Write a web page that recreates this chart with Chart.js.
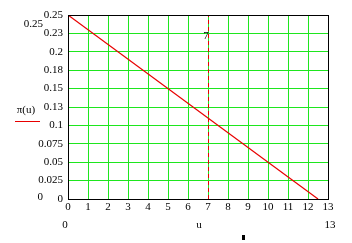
<!DOCTYPE html>
<html><head><meta charset="utf-8">
<script src="https://cdn.jsdelivr.net/npm/chart.js@4"></script>
<style>html,body{margin:0;padding:0;background:#fff;}#wrap{width:352px;height:243px;}</style>
</head><body><div id="wrap"><canvas id="c" width="352" height="243"></canvas></div>
<script>
const lineU = [0, 12.5];
const linePi = [0.25, 0];
const markerU = 7;
const yTickLabels = ['0', '0.025', '0.05', '0.075', '0.1', '0.13', '0.15', '0.18', '0.2', '0.23', '0.25'];
const xMin = 0, xMax = 13, yMin = 0, yMax = 0.25;

const FONT = '"Liberation Serif", "Times New Roman", serif';
const GREEN = '#1ee61e';

const extras = {
  id: 'extras',
  beforeDatasetDraw(chart, args) {
    if (args.index === 1) { chart.ctx.save(); chart.ctx.translate(0.5, 0); }
  },
  afterDatasetDraw(chart, args) {
    if (args.index === 1) { chart.ctx.restore(); }
  },
  afterDraw(chart) {
    const ctx = chart.ctx, a = chart.chartArea;
    const xs = chart.scales.x;
    ctx.save();
    ctx.fillStyle = '#000';
    ctx.font = '11px ' + FONT;
    ctx.textBaseline = 'middle';
    ctx.textAlign = 'right';
    ctx.fillText(String(yMax), 43, a.top + 9);
    ctx.fillText(String(yMin), 43, a.bottom - 2);
    ctx.textAlign = 'center';
    ctx.fillText(String(xMin), a.left - 3, a.bottom + 26);
    ctx.fillText(String(xMax), a.right + 2, a.bottom + 26);
    ctx.fillText('u', (a.left + a.right) / 2 + 1, a.bottom + 26);
    ctx.fillText('π(u)', 26, 110);
    ctx.fillText(String(markerU), xs.getPixelForValue(markerU) - 2, a.top + 21);
    ctx.strokeStyle = '#e80000';
    ctx.lineWidth = 1;
    ctx.beginPath(); ctx.moveTo(15, 121.5); ctx.lineTo(40, 121.5); ctx.stroke();
    ctx.fillRect(242, 235, 3, 5);
    ctx.strokeStyle = '#000';
    ctx.strokeRect(Math.round(a.left) + 0.5, Math.round(a.top) + 0.5, Math.round(a.right - a.left), Math.round(a.bottom - a.top));
    ctx.restore();
  }
};

new Chart(document.getElementById('c'), {
  type: 'line',
  data: {
    datasets: [
      { data: lineU.map((u, i) => ({x: u, y: linePi[i]})), borderColor: '#e80000', borderWidth: 1.2, pointRadius: 0, tension: 0 },
      { data: [{x: markerU, y: yMin}, {x: markerU, y: yMax}], borderColor: '#e80000', borderWidth: 1, borderDash: [4, 3], pointRadius: 0 }
    ]
  },
  options: {
    responsive: false, animation: false, events: [],
    layout: { padding: { top: 15, right: 24, left: 0, bottom: 0 } },
    plugins: { legend: { display: false }, tooltip: { enabled: false } },
    scales: {
      x: {
        type: 'linear', min: xMin, max: xMax,
        afterFit(s) { s.height = 44; },
        ticks: { stepSize: 1, color: '#000', font: { family: FONT, size: 11 }, padding: 2, maxRotation: 0 },
        grid: { color: GREEN, drawTicks: false, lineWidth: 1 },
        border: { color: '#000' }
      },
      y: {
        min: yMin, max: yMax,
        afterFit(s) { s.width = 68; },
        ticks: { stepSize: 0.025, color: '#000', font: { family: FONT, size: 11 }, padding: 5,
          callback: (v, i) => yTickLabels[i] },
        grid: { color: GREEN, drawTicks: false, lineWidth: 1 },
        border: { color: '#000' }
      }
    }
  },
  plugins: [extras]
});
</script></body></html>
